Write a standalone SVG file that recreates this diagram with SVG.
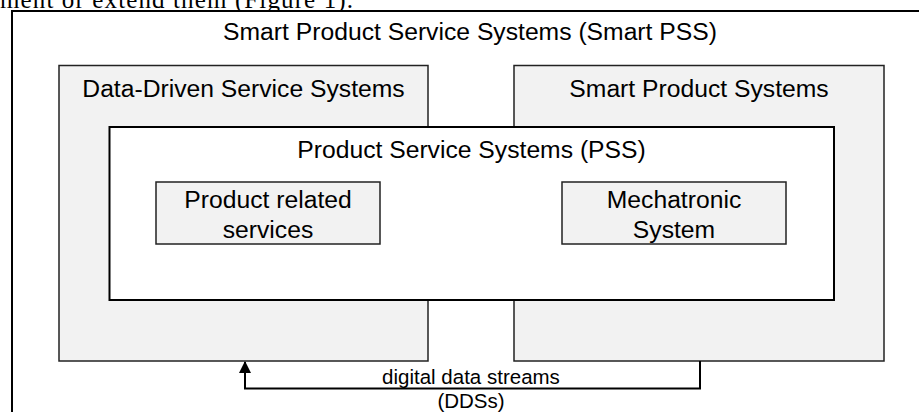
<svg xmlns="http://www.w3.org/2000/svg" width="919" height="412" viewBox="0 0 919 412">
  <style>
    .t { font-family: "Liberation Sans", Arial, sans-serif; font-size: 24.7px; fill: #000; text-anchor: middle; }
    .lbl { font-family: "Liberation Sans", Arial, sans-serif; font-size: 20.5px; fill: #000; text-anchor: middle; }
    .gray { fill: #f2f2f2; stroke: #222; stroke-width: 1.5; }
    .white { fill: #ffffff; stroke: #000; stroke-width: 2; }
    .conn { fill: none; stroke: #000; stroke-width: 2; }
  </style>
  <defs>
    <marker id="arrow" markerUnits="userSpaceOnUse" markerWidth="14" markerHeight="14" refX="11" refY="6" orient="auto">
      <path d="M0,0 L12,6 L0,12 z" fill="#000"/>
    </marker>
  </defs>
  <rect width="919" height="412" fill="#fff"/>
  <text x="0" y="7.5" font-family="'Liberation Serif', 'Times New Roman', serif" font-size="25" textLength="353" lengthAdjust="spacing" fill="#000">ment or extend them (Figure 1).</text>

  <g id="smart-pss">
    <rect x="12" y="11" width="920" height="420" fill="#fff" stroke="#000" stroke-width="2"/>
    <text class="t" x="470" y="40">Smart Product Service Systems (Smart PSS)</text>
  </g>
  <g id="data-driven">
    <rect class="gray" x="59" y="65.5" width="369" height="295.5"/>
    <text class="t" x="243.5" y="97">Data-Driven Service Systems</text>
  </g>
  <g id="smart-product">
    <rect class="gray" x="514" y="65.5" width="370" height="295.5"/>
    <text class="t" x="699" y="97">Smart Product Systems</text>
  </g>
  <g id="pss">
    <rect class="white" x="109.5" y="127" width="724.5" height="173"/>
    <text class="t" x="471.5" y="158">Product Service Systems (PSS)</text>
  </g>
  <g id="product-related-services">
    <rect class="gray" x="156" y="182" width="224" height="62"/>
    <text class="t" x="268" y="208">Product related</text>
    <text class="t" x="268" y="238">services</text>
  </g>
  <g id="mechatronic-system">
    <rect class="gray" x="562" y="182" width="224" height="62"/>
    <text class="t" x="674" y="208">Mechatronic</text>
    <text class="t" x="674" y="238">System</text>
  </g>
  <g id="connectors">
    <path class="conn" d="M700,361 V388.5 H245 V362" marker-end="url(#arrow)"/>
    <text class="lbl" x="471" y="384">digital data streams</text>
    <text class="lbl" x="471" y="408">(DDSs)</text>
  </g>
</svg>
